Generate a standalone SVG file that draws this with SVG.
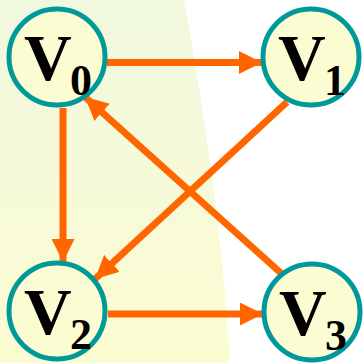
<svg xmlns="http://www.w3.org/2000/svg" width="364" height="363" viewBox="0 0 364 363">
<defs>
<linearGradient id="bg" x1="0" y1="0" x2="0" y2="1">
<stop offset="0" stop-color="#f0f8de"/>
<stop offset="1" stop-color="#fcfcd2"/>
</linearGradient>
<marker id="ah" markerUnits="userSpaceOnUse" markerWidth="24" markerHeight="23" refX="23" refY="11.5" orient="auto">
<path d="M0,0 L23,11.5 L0,23 Z" fill="#ff6600"/>
</marker>
<style>
.edge{stroke:#ff6600;stroke-width:7;fill:none;marker-end:url(#ah)}
.node circle{fill:#fcfcd2;stroke:#009999;stroke-width:5}
.v{font-family:"Liberation Serif","Times New Roman",serif;font-weight:bold;font-size:66px;fill:#000}
.s{font-family:"Liberation Serif","Times New Roman",serif;font-weight:bold;font-size:44px;fill:#000}
</style>
</defs>
<rect width="364" height="363" fill="#fff"/>
<path d="M0,0 L184,0 C200,90 222,220 230,363 L0,363 Z" fill="url(#bg)"/>
<g id="connectors">
<line class="edge" x1="107" y1="62.5" x2="262" y2="62.5"/>
<line class="edge" x1="63" y1="108" x2="63" y2="262"/>
<line class="edge" x1="108" y1="314" x2="263" y2="314"/>
<line class="edge" x1="287" y1="102" x2="95" y2="279"/>
<line class="edge" x1="282" y1="274" x2="85" y2="97"/>
</g>
<g id="V0" class="node"><circle cx="57" cy="57" r="48"/><text class="v" x="24" y="80">V</text><text class="s" x="70" y="95">0</text></g>
<g id="V1" class="node"><circle cx="311" cy="57" r="48"/><text class="v" x="278" y="80">V</text><text class="s" x="324" y="95">1</text></g>
<g id="V2" class="node"><circle cx="57" cy="311" r="48"/><text class="v" x="24" y="334">V</text><text class="s" x="70" y="349">2</text></g>
<g id="V3" class="node"><circle cx="312" cy="312" r="48"/><text class="v" x="279" y="335">V</text><text class="s" x="325" y="350">3</text></g>
</svg>
